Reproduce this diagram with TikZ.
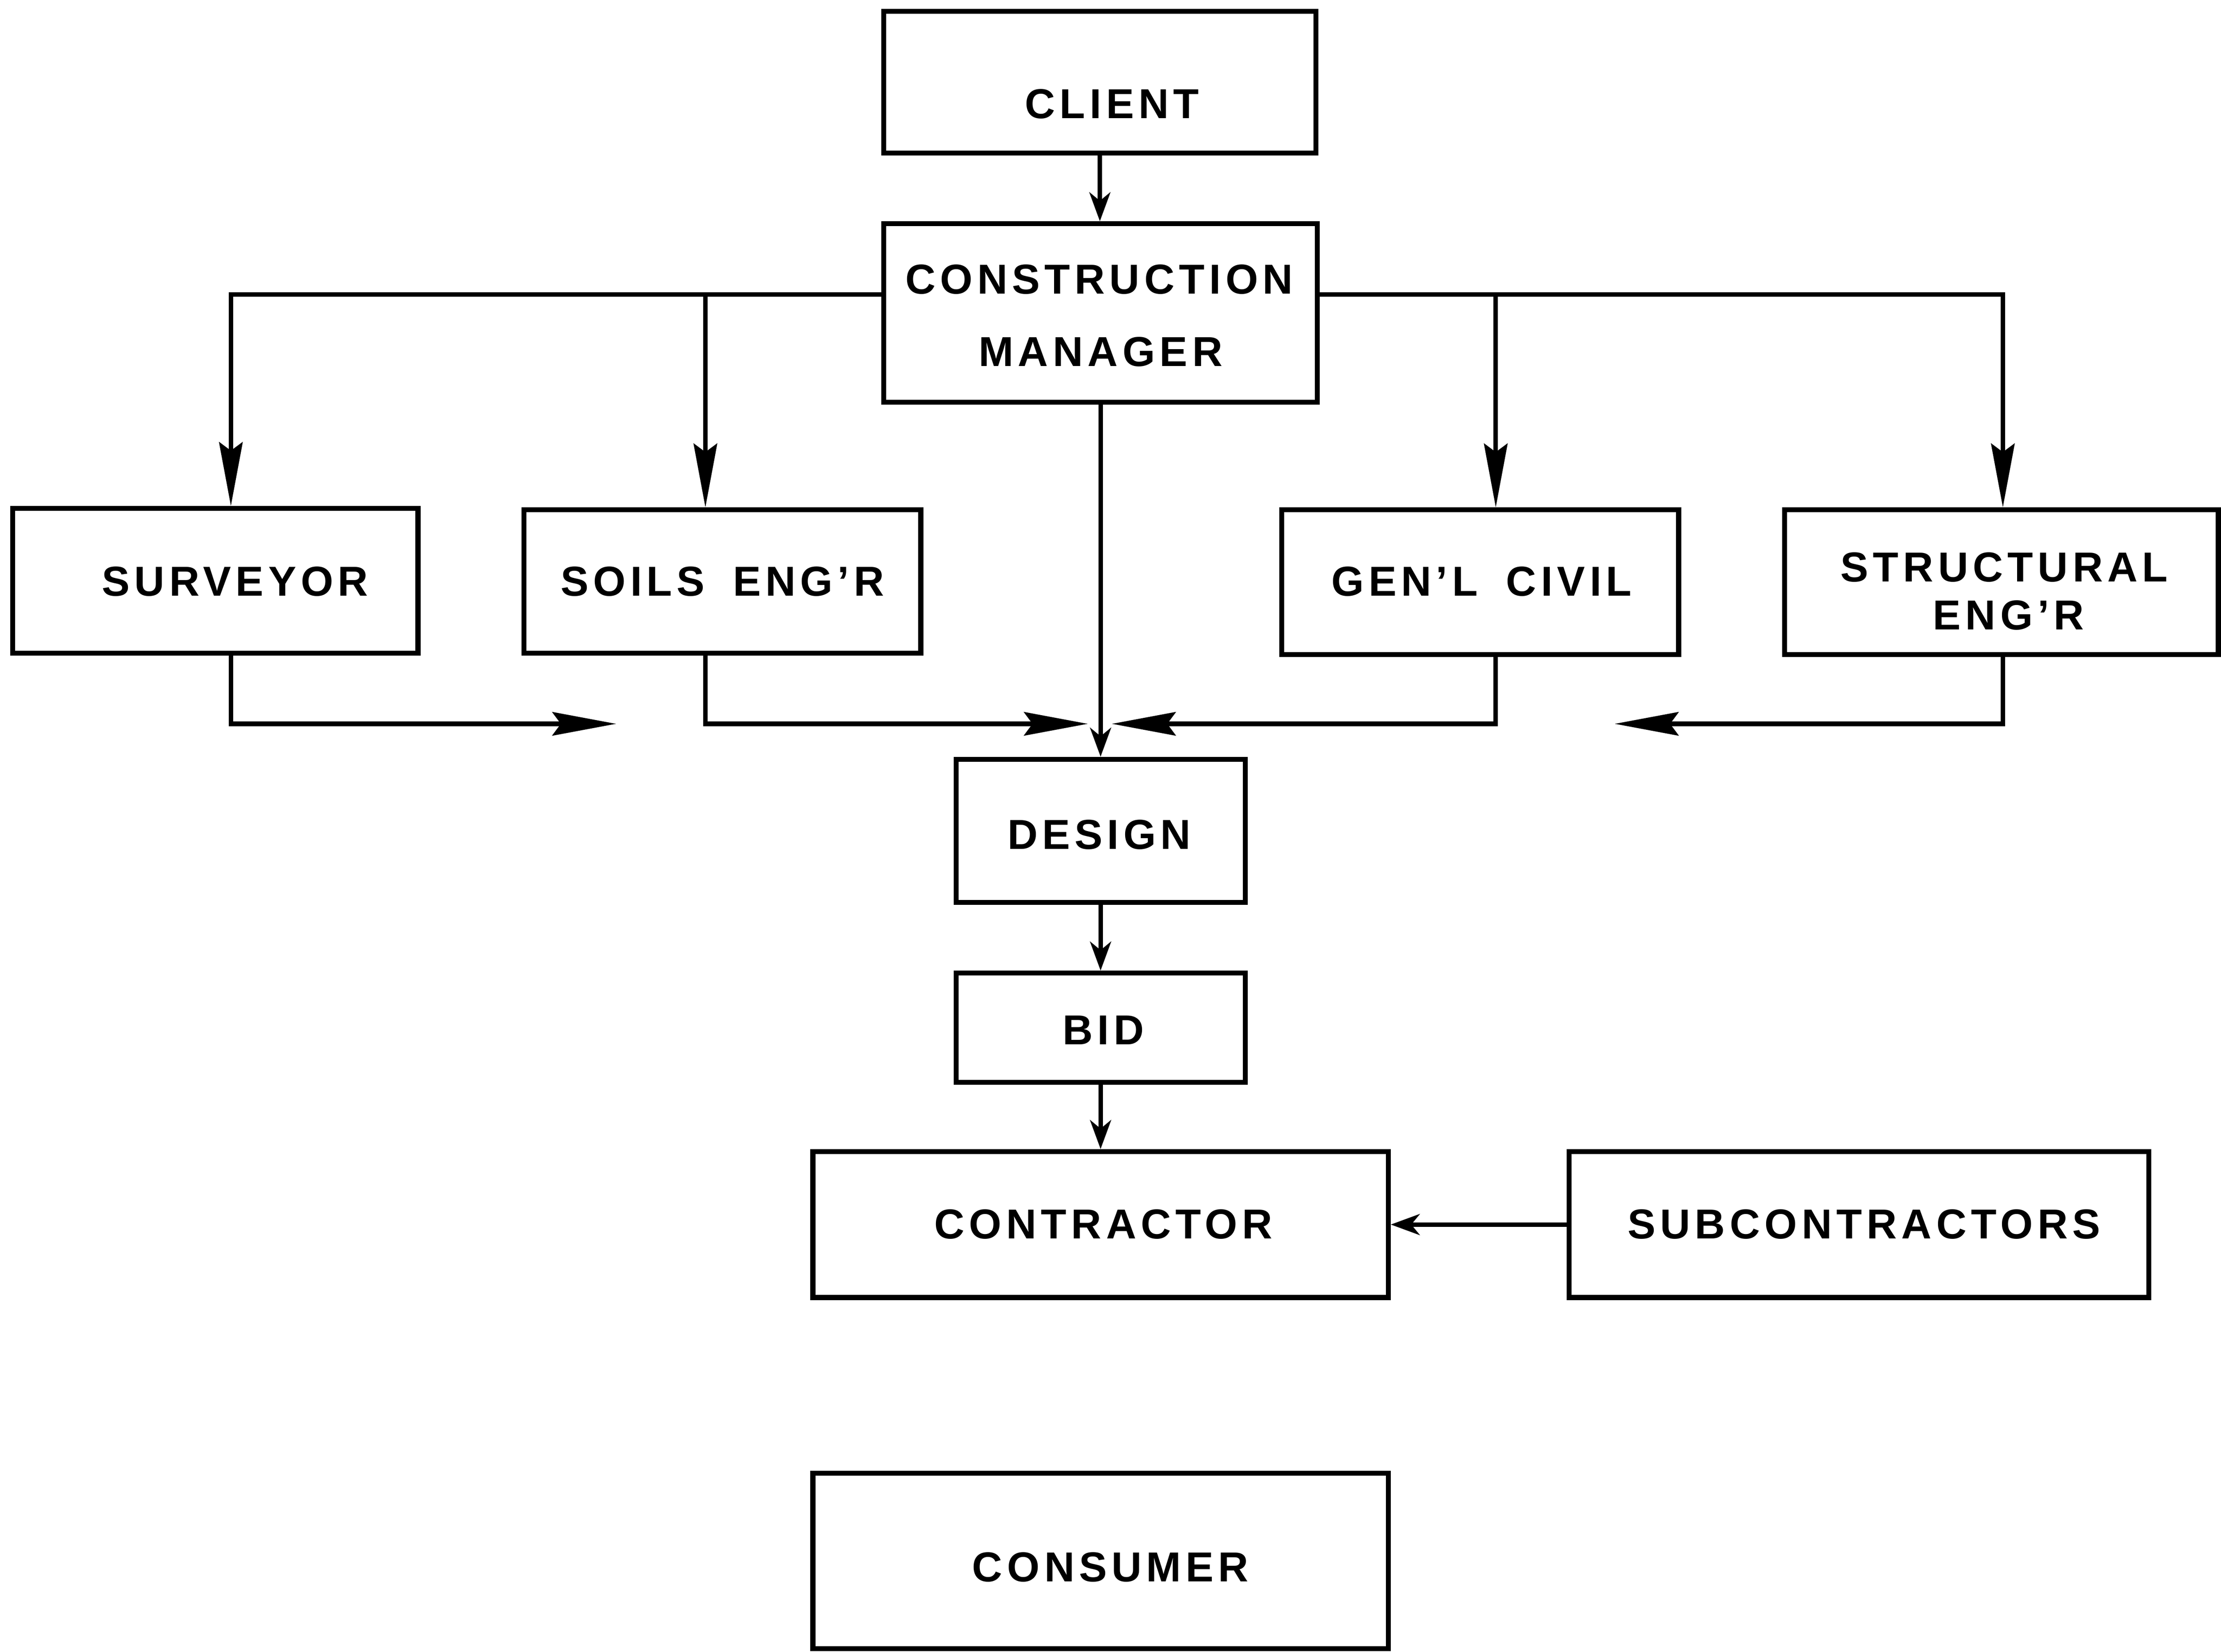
\documentclass[tikz,border=0pt]{standalone}
\usepackage{fontspec}
\setmainfont{Liberation Sans}
\newfontfamily\labfont[LetterSpace=11,WordSpace=1.75]{Liberation Sans}
\usetikzlibrary{arrows.meta}
\begin{document}
\begin{tikzpicture}[x=0.01cm, y=-0.01cm,
  box/.style={draw, line width=1pt, inner sep=0pt},
  lab/.style={inner sep=0pt, text height=6pt, text depth=0pt, font=\labfont\bfseries\fontsize{8.4}{10}\selectfont},
  conn/.style={line width=0.9pt},
  big/.style={-{Stealth[length=12.8pt,width=4.7pt,inset=1.7pt]}},
  small/.style={-{Stealth[length=5.8pt,width=4.2pt,inset=1.7pt]}}
]
\fill[white] (0,0) rectangle (1568,1166);
\useasboundingbox (0,0) rectangle (1568,1166);

% boxes
\node[box, minimum width=3.05cm, minimum height=1.00cm] (client) at (776.5,58) {};
\node[box, minimum width=3.06cm, minimum height=1.26cm] (cm) at (777,221) {};
\node[box, minimum width=2.86cm, minimum height=1.02cm] (surveyor) at (152,410) {};
\node[box, minimum width=2.80cm, minimum height=1.01cm] (soils) at (510,410.5) {};
\node[box, minimum width=2.80cm, minimum height=1.02cm] (civil) at (1045,411) {};
\node[box, minimum width=3.06cm, minimum height=1.02cm] (struct) at (1413,411) {};
\node[box, minimum width=2.04cm, minimum height=1.01cm] (design) at (777,586.5) {};
\node[box, minimum width=2.04cm, minimum height=0.77cm] (bid) at (777,725.5) {};
\node[box, minimum width=4.06cm, minimum height=1.03cm] (contractor) at (777,864.5) {};
\node[box, minimum width=4.09cm, minimum height=1.03cm] (subc) at (1312.5,864.5) {};
\node[box, minimum width=4.06cm, minimum height=1.24cm] (consumer) at (777,1102) {};

% labels
\node[lab] (tClient) at (785,73) {CLIENT};
\node[lab] (tCM1) at (776,197) {CONSTRUCTION};
\node[lab] (tCM2) at (777,248) {MANAGER};
\node[lab] (tSurv) at (166,410) {SURVEYOR};
\node[lab] (tSoils) at (510,410) {SOILS ENG’R};
\node[lab] (tCivil) at (1046,410) {GEN’L CIVIL};
\node[lab] (tStr1) at (1415,400) {STRUCTURAL};
\node[lab] (tStr2) at (1418,434) {ENG’R};
\node[lab] (tDesign) at (776,589) {DESIGN};
\node[lab] (tBid) at (779,727) {BID};
\node[lab] (tCon) at (779,864) {CONTRACTOR};
\node[lab] (tSub) at (1316,864) {SUBCONTRACTORS};
\node[lab] (tConsumer) at (784,1106) {CONSUMER};

% junction points and free arrow ends
\coordinate (jS) at (163,208);
\coordinate (jO) at (498,208);
\coordinate (jC) at (1056,208);
\coordinate (jR) at (1414,208);
\coordinate (eS) at (435,511);
\coordinate (eO) at (768,511);
\coordinate (eC) at (785,511);
\coordinate (eR) at (1140,511);

% connectors
\draw[conn, small] (client.south) -- (client.south |- cm.north);
\draw[conn, big] (cm.west |- jS) -- (jS) -- (jS |- surveyor.north);
\draw[conn, big] (jO) -- (jO |- soils.north);
\draw[conn, big] (cm.east |- jR) -- (jR) -- (jR |- struct.north);
\draw[conn, big] (jC) -- (jC |- civil.north);
\draw[conn, small] (cm.south) -- (cm.south |- design.north);

\draw[conn, big] (jS |- surveyor.south) |- (eS);
\draw[conn, big] (jO |- soils.south) |- (eO);
\draw[conn, big] (jC |- civil.south) |- (eC);
\draw[conn, big] (jR |- struct.south) |- (eR);

\draw[conn, small] (design.south) -- (bid.north);
\draw[conn, small] (bid.south) -- (contractor.north);
\draw[conn, small] (subc.west) -- (contractor.east);
\end{tikzpicture}
\end{document}
